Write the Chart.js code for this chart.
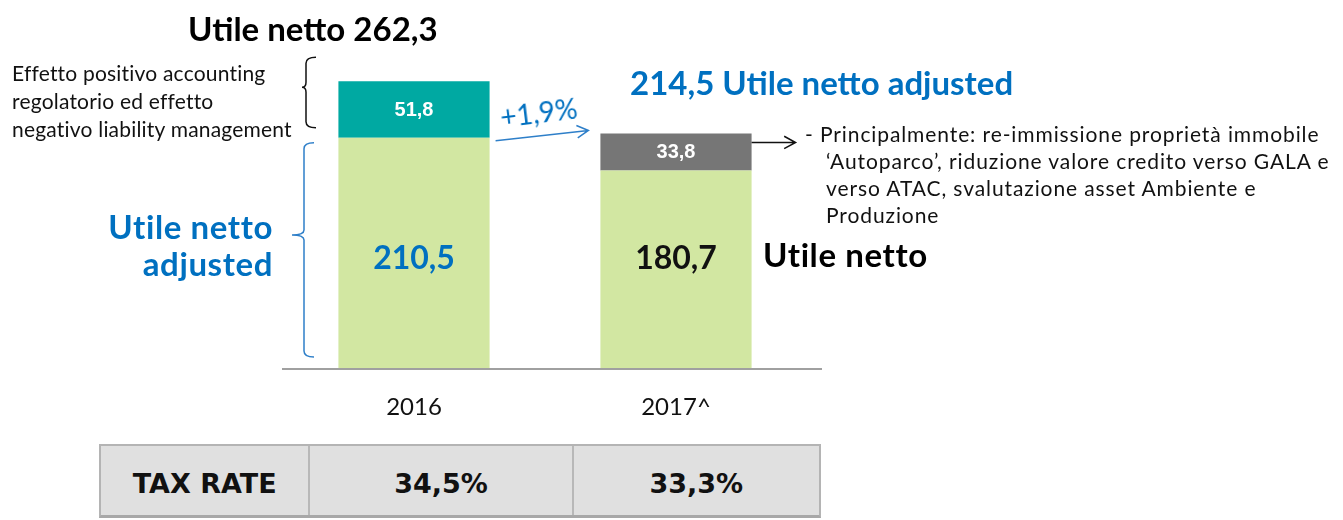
<!DOCTYPE html>
<html lang="it">
<head>
<meta charset="utf-8">
<title>Utile netto 2016 - 2017</title>
<script src="https://cdn.jsdelivr.net/npm/chart.js@4.4.1/dist/chart.umd.min.js"></script>
<style>
  html, body { margin: 0; padding: 0; background: #fff; }
  #wrap { position: relative; width: 1343px; height: 520px; overflow: hidden; font-family: Lato, "Noto Sans", sans-serif; }
  #chart { position: absolute; left: 0; top: 0; }
  .note { position: absolute; white-space: nowrap; }
  .big { font-weight: bold; font-size: 33px; }
  .blue { color: #0070c0; }
  .small { font-size: 21px; color: #111; line-height: 28px; letter-spacing: 0.2px; }
  .side { font-size: 21px; color: #111; line-height: 27px; letter-spacing: 0.9px; }
  #tax { position: absolute; left: 99px; top: 444px; width: 722px; height: 74px; display: flex;
         background: #e0e0e0; border: 2px solid #b4b4b4; border-bottom: 3px solid #a8a8a8; box-sizing: border-box; }
  #tax div { display: flex; align-items: center; justify-content: center; padding-top: 6px; box-sizing: border-box;
             font-family: "DejaVu Sans", Verdana, sans-serif; font-weight: bold; font-size: 27px; color: #111; }
  #tax div + div { border-left: 2px solid #b8b8b8; }
</style>
</head>
<body>
<div id="wrap">
  <canvas id="chart" width="1343" height="520"></canvas>

  <div class="note big" id="lblTotal" style="left:188px; top:8px;"></div>
  <div class="note small" style="left:12px; top:59px;">Effetto positivo accounting<br>regolatorio ed effetto<br>negativo liability management</div>
  <div class="note big blue" style="right:1070px; top:208px; text-align:right; line-height:37px; letter-spacing:0.6px;">Utile netto<br>adjusted</div>
  <div class="note big blue" id="lblAdjusted" style="left:630px; top:62px;"></div>
  <div class="note blue" id="lblGrowth" style="left:500px; top:95px; font-size:28px; transform:rotate(-7deg); transform-origin:center;"></div>
  <div class="note big" style="left:763px; top:234px; letter-spacing:0.6px;">Utile netto</div>
  <div class="note side" style="left:805px; top:120px;">- Principalmente: re-immissione proprietà immobile</div>
  <div class="note side" style="left:826px; top:147px;">‘Autoparco’, riduzione valore credito verso GALA e<br>verso ATAC, svalutazione asset Ambiente e<br>Produzione</div>

  <div id="tax"></div>
</div>

<script>
// anni sull'asse x
const categories = ['2016', '2017^'];
// utile netto adjusted 2016 / utile netto 2017 (parte verde)
const baseValues = [210.5, 180.7];
// effetto positivo accounting regolatorio (solo 2016)
const positiveEffect = [51.8, null];
// poste non ricorrenti 2017 (solo 2017)
const oneOffItems = [null, 33.8];
// tabella tax rate
const taxLabel = 'TAX RATE';
const taxRates = ['34,5%', '33,3%'];

const fmt = v => v.toFixed(1).replace('.', ',');

// testi calcolati dai dati
const total2016 = baseValues[0] + positiveEffect[0];
const adjusted2017 = baseValues[1] + oneOffItems[1];
document.getElementById('lblTotal').textContent = 'Utile netto ' + fmt(total2016);
document.getElementById('lblAdjusted').textContent = fmt(adjusted2017) + ' Utile netto adjusted';
document.getElementById('lblGrowth').textContent = '+' + fmt((adjusted2017 / baseValues[0] - 1) * 100) + '%';

const taxBox = document.getElementById('tax');
[taxLabel].concat(taxRates).forEach((t, i) => {
    const cell = document.createElement('div');
    cell.textContent = t;
    cell.style.width = ['208px', '264px', '248px'][i];
    taxBox.appendChild(cell);
});

const GREEN = '#d2e7a2';
const TEAL = '#00a9a2';
const GREY = '#767676';
const BLUE = '#0070c0';

// etichette dentro le barre
const valueLabels = {
    id: 'valueLabels',
    afterDatasetsDraw(chart) {
        const ctx = chart.ctx;
        const y0 = chart.scales.y.getPixelForValue(0);
        ctx.save();
        ctx.textAlign = 'center';
        ctx.textBaseline = 'middle';
        chart.data.datasets.forEach((ds, di) => {
            chart.getDatasetMeta(di).data.forEach((bar, i) => {
                const v = ds.data[i];
                if (v == null) return;
                if (di === 0) {
                    ctx.font = 'bold 32px Lato';
                    ctx.fillStyle = i === 0 ? BLUE : '#111';
                    ctx.fillText(fmt(v), bar.x, y0 - 109);
                } else {
                    ctx.font = 'bold 20px "Liberation Sans", Arial';
                    ctx.fillStyle = '#fff';
                    ctx.fillText(fmt(v), bar.x, (bar.y + bar.base) / 2 + 1);
                }
            });
        });
        ctx.restore();
    }
};

// linea di base, parentesi graffe e frecce
function brace(ctx, x, y1, y2, tipX, tipY, color) {
    ctx.beginPath();
    ctx.strokeStyle = color;
    ctx.lineWidth = 1.5;
    ctx.moveTo(x + 10, y1);
    ctx.quadraticCurveTo(x, y1, x, y1 + 6);
    ctx.lineTo(x, tipY - 5);
    ctx.quadraticCurveTo(x, tipY, tipX, tipY);
    ctx.quadraticCurveTo(x, tipY, x, tipY + 5);
    ctx.lineTo(x, y2 - 6);
    ctx.quadraticCurveTo(x, y2, x + 10, y2);
    ctx.stroke();
}

function arrow(ctx, x1, y1, x2, y2, color, width) {
    const a = Math.atan2(y2 - y1, x2 - x1);
    const h = 13;
    ctx.beginPath();
    ctx.strokeStyle = color;
    ctx.lineWidth = width;
    ctx.moveTo(x1, y1);
    ctx.lineTo(x2, y2);
    ctx.moveTo(x2 - h * Math.cos(a - 0.5), y2 - h * Math.sin(a - 0.5));
    ctx.lineTo(x2, y2);
    ctx.lineTo(x2 - h * Math.cos(a + 0.5), y2 - h * Math.sin(a + 0.5));
    ctx.stroke();
}

const annotations = {
    id: 'annotations',
    afterDraw(chart) {
        const ctx = chart.ctx;
        const y = chart.scales.y;
        const bars = chart.getDatasetMeta(0).data;
        const y0 = y.getPixelForValue(0);
        ctx.save();
        // asse orizzontale
        ctx.beginPath();
        ctx.strokeStyle = '#a0a0a0';
        ctx.lineWidth = 2;
        ctx.moveTo(282, y0 + 1);
        ctx.lineTo(822, y0 + 1);
        ctx.stroke();

        const yBase16 = y.getPixelForValue(baseValues[0]);
        const yTot16 = y.getPixelForValue(total2016);
        const yAdj17 = y.getPixelForValue(adjusted2017);
        brace(ctx, 306, yTot16 - 24, yBase16 - 10, 302, yTot16 + 6, '#111');
        brace(ctx, 304, yBase16 + 5, y0 - 11, 292, 235, '#2e7fc9');

        const left16 = bars[0].x + bars[0].width / 2;
        const left17 = bars[1].x - bars[1].width / 2;
        const right17 = bars[1].x + bars[1].width / 2;
        arrow(ctx, left16 + 6, yBase16 + 3, left17 - 12, yAdj17 - 3, '#2e7fc9', 1.5);
        arrow(ctx, right17, yAdj17 + 9, right17 + 44, yAdj17 + 9, '#111', 1.5);
        ctx.restore();
    }
};

new Chart(document.getElementById('chart'), {
    type: 'bar',
    data: {
        labels: categories,
        datasets: [
            { data: baseValues, backgroundColor: GREEN },
            { data: positiveEffect, backgroundColor: TEAL },
            { data: oneOffItems, backgroundColor: GREY }
        ]
    },
    options: {
        responsive: false,
        animation: false,
        layout: { padding: { left: 283, right: 536, top: 40, bottom: 0 } },
        categoryPercentage: 1,
        barPercentage: 0.577,
        plugins: { legend: { display: false }, tooltip: { enabled: false } },
        scales: {
            x: {
                stacked: true,
                grid: { display: false, drawTicks: false },
                border: { display: false },
                ticks: { color: '#111', font: { family: 'Lato', size: 24 }, padding: 25 },
                afterFit: s => { s.height = 152; }
            },
            y: { stacked: true, display: false, min: 0, max: 300 }
        }
    },
    plugins: [valueLabels, annotations]
});
</script>
</body>
</html>
